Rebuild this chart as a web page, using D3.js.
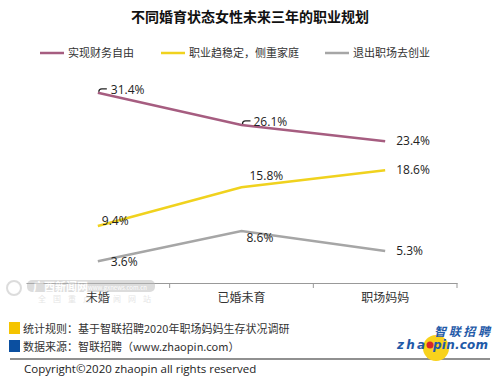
<!DOCTYPE html>
<html>
<head>
<meta charset="utf-8">
<script src="https://cdn.jsdelivr.net/npm/d3@7"></script>
<style>
  body { margin: 0; background: #fff; }
  text { font-family: "Noto Sans CJK SC", "Noto Sans", sans-serif; }
</style>
</head>
<body>
<div id="wrapper"></div>
<script>
const categories = ["未婚", "已婚未育", "职场妈妈"];
const seriesNames = ["实现财务自由", "职业趋稳定，侧重家庭", "退出职场去创业"];
const seriesColors = ["#a65d80", "#f0d21e", "#a6a6a6"];
const financeValues = [31.4, 26.1, 23.4];
const familyValues = [9.4, 15.8, 18.6];
const startupValues = [3.6, 8.6, 5.3];

// label offsets per point [dx, dy] relative to point
const labelOffsets = [
    [[13, 1], [12, 1], [11, 4]],
    [[4, -1], [8, -7], [11, 4]],
    [[13, 5], [5, 11], [11, 4]],
];

const TEXT_COLOR = "#333";

function drawChart() {
    const width = 500;
    const height = 388;

    const dimensions = {
        margin: { top: 71, left: 26, right: 43, bottom: 105 },
    };
    dimensions.boundedWidth = width - dimensions.margin.left - dimensions.margin.right;
    dimensions.boundedHeight = height - dimensions.margin.top - dimensions.margin.bottom;

    const svg = d3.select("#wrapper").append("svg")
        .attr("width", width)
        .attr("height", height);

    // title
    svg.append("text")
        .attr("x", 250)
        .attr("y", 22)
        .attr("text-anchor", "middle")
        .style("font-size", "14px")
        .style("font-weight", "bold")
        .attr("fill", "#111")
        .text("不同婚育状态女性未来三年的职业规划");

    // legend
    const legendX = [40, 161, 325];
    const legend = svg.append("g").selectAll("g")
        .data(seriesNames)
        .join("g")
        .attr("transform", (d, i) => `translate(${legendX[i]}, 53)`);
    legend.append("line")
        .attr("x1", 0).attr("x2", 24)
        .attr("stroke", (d, i) => seriesColors[i])
        .attr("stroke-width", 2.5);
    legend.append("text")
        .attr("x", 28)
        .attr("dy", "0.35em")
        .style("font-size", "11px")
        .attr("fill", TEXT_COLOR)
        .text(d => d);

    const bounds = svg.append("g")
        .attr("transform", `translate(${dimensions.margin.left}, ${dimensions.margin.top})`);

    const xScale = d3.scaleBand()
        .domain(categories)
        .range([0, dimensions.boundedWidth]);

    const yScale = d3.scaleLinear()
        .domain([0, 35])
        .range([dimensions.boundedHeight, 0]);

    // x axis
    const xAxis = d3.axisBottom(xScale).tickSize(0).tickPadding(10);
    const xAxisGroup = bounds.append("g")
        .attr("transform", `translate(0, ${dimensions.boundedHeight})`)
        .call(xAxis);
    xAxisGroup.select(".domain").attr("stroke", "#999").attr("stroke-width", 1.2);
    xAxisGroup.selectAll("text")
        .style("font-size", "12px")
        .attr("fill", TEXT_COLOR)
        .style("font-family", '"Noto Sans CJK SC", sans-serif');
    xAxisGroup.selectAll(".sep")
        .data(categories.slice(1).concat(["end"]))
        .join("line")
        .attr("class", "sep")
        .attr("x1", (d, i) => xScale.step() * (i + 1))
        .attr("x2", (d, i) => xScale.step() * (i + 1))
        .attr("y1", 0).attr("y2", 5)
        .attr("stroke", "#999");

    const series = [financeValues, familyValues, startupValues];
    const xCenter = d => xScale(d) + xScale.bandwidth() / 2;

    const lineGen = d3.line()
        .x((d, i) => xCenter(categories[i]))
        .y(d => yScale(d));

    bounds.selectAll(".series")
        .data(series)
        .join("path")
        .attr("class", "series")
        .attr("d", lineGen)
        .attr("fill", "none")
        .attr("stroke", (d, i) => seriesColors[i])
        .attr("stroke-width", 2.5);

    // leader marks for the top series
    bounds.selectAll(".leader")
        .data(financeValues.slice(0, 2))
        .join("path")
        .attr("class", "leader")
        .attr("d", (d, i) => {
            const x = xCenter(categories[i]);
            const y = yScale(d);
            return `M${x + 1},${y - 1} q0,-3 3,-3 h5`;
        })
        .attr("fill", "none")
        .attr("stroke", "#222")
        .attr("stroke-width", 1.3);

    series.forEach((values, s) => {
        bounds.selectAll(`.label-${s}`)
            .data(values)
            .join("text")
            .attr("class", `label-${s}`)
            .attr("x", (d, i) => xCenter(categories[i]) + labelOffsets[s][i][0])
            .attr("y", (d, i) => yScale(d) + labelOffsets[s][i][1])
            .style("font-size", "12px")
            .style("font-family", '"Open Sans", "DejaVu Sans", sans-serif')
            .attr("fill", "#222")
            .text(d => d.toFixed(1) + "%");
    });

    // watermark
    const mark = svg.append("g").attr("opacity", 0.5);
    mark.append("rect")
        .attr("x", 27).attr("y", 280).attr("width", 128).attr("height", 12)
        .attr("rx", 5).attr("fill", "#bbb");
    mark.append("circle")
        .attr("cx", 14).attr("cy", 288).attr("r", 7)
        .attr("fill", "none").attr("stroke", "#bbb").attr("stroke-width", 2);
    mark.append("text")
        .attr("x", 33).attr("y", 291)
        .style("font-size", "11px").style("font-weight", "bold")
        .attr("fill", "#fff")
        .text("广西新闻网");
    mark.append("text")
        .attr("x", 88).attr("y", 290)
        .style("font-size", "6px")
        .attr("fill", "#fff")
        .text("www.gxnews.com.cn");
    mark.append("text")
        .attr("x", 38).attr("y", 302)
        .style("font-size", "8px")
        .attr("letter-spacing", "7px")
        .attr("fill", "#ccc")
        .text("全国重点新闻网站");

    // footer
    const notes = [
        ["#f5c400", "统计规则：基于智联招聘2020年职场妈妈生存状况调研"],
        ["#0b4fa0", "数据来源：智联招聘（www.zhaopin.com）"],
    ];
    const footer = svg.append("g").selectAll("g")
        .data(notes)
        .join("g")
        .attr("transform", (d, i) => `translate(9, ${322 + i * 18})`);
    footer.append("rect")
        .attr("width", 11).attr("height", 12)
        .attr("fill", d => d[0]);
    footer.append("text")
        .attr("x", 14).attr("y", 10.5)
        .style("font-size", "11px")
        .attr("fill", TEXT_COLOR)
        .text(d => d[1]);

    svg.append("line")
        .attr("x1", 10).attr("x2", 490)
        .attr("y1", 359).attr("y2", 359)
        .attr("stroke", "#222").attr("stroke-width", 1.2);
    svg.append("text")
        .attr("x", 24).attr("y", 373)
        .style("font-size", "11.5px")
        .style("font-family", '"Open Sans", "DejaVu Sans", sans-serif')
        .attr("fill", "#222")
        .text("Copyright©2020 zhaopin all rights reserved");

    // logo
    const logo = svg.append("g");
    logo.append("circle")
        .attr("cx", 436).attr("cy", 348).attr("r", 13)
        .attr("fill", "#f8d21c");
    logo.append("text")
        .attr("x", 434).attr("y", 336)
        .attr("textLength", 56)
        .style("font-size", "12px").style("font-weight", "bold").style("font-style", "italic")
        .attr("fill", "#1f5aa8")
        .text("智联招聘");
    logo.append("text")
        .attr("x", 397).attr("y", 349)
        .attr("textLength", 28)
        .style("font-size", "12px").style("font-weight", "bold").style("font-style", "italic")
        .style("font-family", '"DejaVu Sans", sans-serif')
        .attr("fill", "#1f5aa8")
        .text("zha");
    logo.append("text")
        .attr("x", 433).attr("y", 349)
        .attr("textLength", 55)
        .style("font-size", "12px").style("font-weight", "bold").style("font-style", "italic")
        .style("font-family", '"DejaVu Sans", sans-serif')
        .attr("fill", "#1f5aa8")
        .text("pin.com");
    logo.append("circle")
        .attr("cx", 430).attr("cy", 345).attr("r", 3.5)
        .attr("fill", "#d8262a");
}

drawChart();
</script>
</body>
</html>
